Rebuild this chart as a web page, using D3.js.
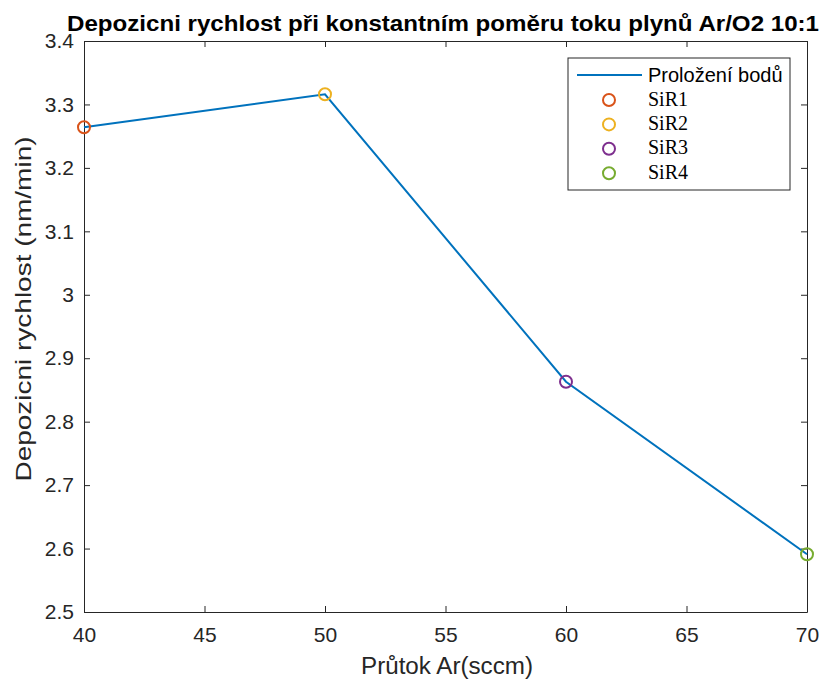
<!DOCTYPE html>
<html><head><meta charset="utf-8">
<script src="https://cdn.jsdelivr.net/npm/d3@7"></script>
<style>body{margin:0;background:#fff}</style>
</head><body><svg id="c" width="828" height="682"></svg>
<script>
const xValues = [40, 50, 60, 70];
const yValues = [3.264, 3.316, 2.863, 2.591];
const sampleNames = ["SiR1", "SiR2", "SiR3", "SiR4"];
const markerColors = ["#D95319", "#EDB120", "#7E2F8E", "#77AC30"];
const xTicks = [40, 45, 50, 55, 60, 65, 70];
const yTicks = [2.5, 2.6, 2.7, 2.8, 2.9, 3, 3.1, 3.2, 3.3, 3.4];
const lineName = "Proložení bodů";

const svg = d3.select("#c");
const L = 84, R = 807, T = 41, B = 612;
const x = d3.scaleLinear().domain([40, 70]).range([L, R]);
const y = d3.scaleLinear().domain([2.5, 3.4]).range([B, T]);
const font = "'Liberation Sans', Arial, sans-serif";
const axCol = "#262626";

svg.append("rect").attr("x", L).attr("y", T).attr("width", R - L).attr("height", B - T).attr("fill", "#fff");

function styleAxis(g) {
  g.selectAll("path").attr("stroke", axCol).attr("stroke-width", 1);
  g.selectAll("line").attr("stroke", axCol).attr("stroke-width", 1);
  g.selectAll("text").attr("fill", axCol).style("font-family", font).style("font-size", "21px");
}
const fmt = d => String(d);
svg.append("g").attr("transform", `translate(0,${B})`)
  .call(d3.axisBottom(x).tickValues(xTicks).tickFormat(fmt).tickSizeInner(-6).tickSizeOuter(0).tickPadding(15))
  .call(styleAxis);
svg.append("g").attr("transform", `translate(0,${T})`)
  .call(d3.axisTop(x).tickValues(xTicks).tickFormat("").tickSizeInner(-6).tickSizeOuter(0))
  .call(styleAxis);
svg.append("g").attr("transform", `translate(${L},0)`)
  .call(d3.axisLeft(y).tickValues(yTicks).tickFormat(fmt).tickSizeInner(-6).tickSizeOuter(0).tickPadding(10))
  .call(styleAxis);
svg.append("g").attr("transform", `translate(${R},0)`)
  .call(d3.axisRight(y).tickValues(yTicks).tickFormat("").tickSizeInner(-6).tickSizeOuter(0))
  .call(styleAxis);

const pts = xValues.map((v, i) => [v, yValues[i]]);
svg.append("path").datum(pts)
  .attr("d", d3.line().x(d => x(d[0])).y(d => y(d[1])))
  .attr("fill", "none").attr("stroke", "#0072BD").attr("stroke-width", 2);

svg.selectAll("circle.pt").data(pts).join("circle").attr("class", "pt")
  .attr("cx", d => x(d[0])).attr("cy", d => y(d[1])).attr("r", 6)
  .attr("fill", "none").attr("stroke", (d, i) => markerColors[i]).attr("stroke-width", 2);

// title
svg.append("text").attr("x", 443).attr("y", 31).attr("text-anchor", "middle")
  .attr("textLength", 752).attr("lengthAdjust", "spacingAndGlyphs")
  .style("font-family", font).style("font-size", "22px").style("font-weight", "bold").attr("fill", "#000")
  .text("Depozicni rychlost při konstantním poměru toku plynů Ar/O2 10:1");
// axis labels
svg.append("text").attr("x", 447).attr("y", 674).attr("text-anchor", "middle")
  .attr("textLength", 172).attr("lengthAdjust", "spacingAndGlyphs")
  .style("font-family", font).style("font-size", "23px").attr("fill", axCol).text("Průtok Ar(sccm)");
svg.append("text").attr("transform", `translate(31,309) rotate(-90)`).attr("text-anchor", "middle")
  .attr("textLength", 345).attr("lengthAdjust", "spacingAndGlyphs")
  .style("font-family", font).style("font-size", "22px").attr("fill", axCol).text("Depozicni rychlost (nm/min)");

// legend
const lg = svg.append("g");
lg.append("rect").attr("x", 568).attr("y", 58).attr("width", 222).attr("height", 132)
  .attr("fill", "#fff").attr("stroke", axCol).attr("stroke-width", 1);
lg.append("line").attr("x1", 577).attr("x2", 642).attr("y1", 75).attr("y2", 75)
  .attr("stroke", "#0072BD").attr("stroke-width", 2);
lg.append("text").attr("x", 648).attr("y", 82).style("font-family", font).style("font-size", "20px")
  .attr("fill", "#000").text(lineName);
sampleNames.forEach((n, i) => {
  const yy = 100 + i * 24.4;
  lg.append("circle").attr("cx", 609).attr("cy", yy).attr("r", 6).attr("fill", "none")
    .attr("stroke", markerColors[i]).attr("stroke-width", 2);
  lg.append("text").attr("x", 648).attr("y", yy + 5.5).style("font-family", "'Liberation Serif', 'Times New Roman', serif")
    .style("font-size", "20px").attr("fill", "#000").text(n);
});
</script></body></html>
